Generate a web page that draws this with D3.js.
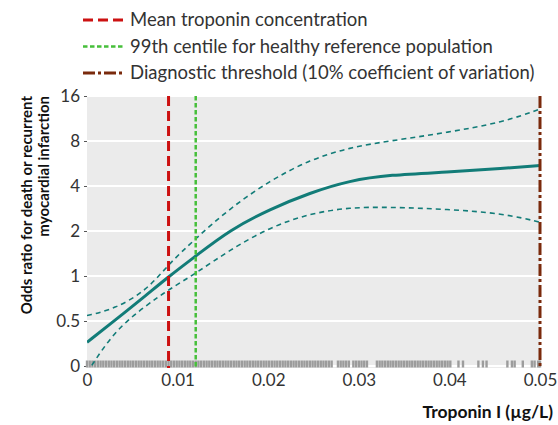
<!DOCTYPE html>
<html>
<head>
<meta charset="utf-8">
<script src="https://cdn.jsdelivr.net/npm/d3@7"></script>
<style>
  html, body { margin: 0; padding: 0; background: #ffffff; }
  svg { display: block; }
</style>
</head>
<body>
<svg id="chart" width="558" height="425"></svg>
<script>
// ---------- data ----------
const troponin  = [0, 0.003, 0.0066, 0.009, 0.012, 0.0158, 0.0202, 0.0246, 0.029, 0.0334, 0.0397, 0.046, 0.05];
const oddsRatio = [0.36, 0.50, 0.75, 0.99, 1.36, 2.04, 2.80, 3.60, 4.35, 4.75, 4.95, 5.24, 5.49];
const upperCI   = [0.544, 0.60, 0.80, 1.20, 1.78, 2.85, 4.35, 6.00, 7.25, 8.0, 9.1, 10.7, 13.1];
const lowerCI   = [0.225, 0.43, 0.64, 0.81, 1.04, 1.50, 2.12, 2.62, 2.88, 2.89, 2.80, 2.62, 2.29];

const yTickValues = [0.25, 0.5, 1, 2, 4, 8, 16];
const yTickLabels = ["0", "0.5", "1", "2", "4", "8", "16"];
const xTickValues = [0, 0.01, 0.02, 0.03, 0.04, 0.05];
const xTickLabels = ["0", "0.01", "0.02", "0.03", "0.04", "0.05"];

const refNames  = ["Mean troponin concentration", "99th centile for healthy reference population", "Diagnostic threshold (10% coefficient of variation)"];
const refValues = [0.009, 0.012, 0.05];

// observed troponin values (units of 0.0001 µg/L) for the rug
const rugValues = [0,3,6,9,12,15,18,21,24,27,30,33,36,39,42,45,48,51,54,57,60,63,66,69,72,75,78,81,84,87,90,93,96,99,
  102,105,108,111,114,117,120,123,126,129,132,135,138,141,144,147,150,153,156,159,162,165,168,171,174,177,180,183,186,189,
  192,195,198,201,204,207,210,213,216,219,222,225,228,231,234,237,240,243,246,249,252,255,258,261,264,267,270,
  277,280,283,286,289,294,297,300,303,306,309,
  320,323,326,329,332,335,338,341,344,347,350,353,356,359,362,365,368,371,374,377,380,383,386,389,392,395,398,401,
  410,415,432,437,441,464,469,472,481,491,494,498,500];

// ---------- layout ----------
const svg = d3.select("#chart");
const pLeft = 87, pRight = 540, pTop = 96, pBottom = 368;
const x = d3.scaleLinear().domain([0, 0.05]).range([pLeft, pRight]);
const y = d3.scaleLog().base(2).domain([0.25, 16]).range([366, pTop]);

const teal = "#127c78";
const refColors = ["#cc1111", "#46bf3a", "#7a2a0c"];
const refDash = ["10,5", "4.5,2.5", "12,3,3,3"];
const refWidth = [3, 2.5, 3];
const fontReg = "Lato, 'Open Sans', sans-serif";

// background
svg.append("rect").attr("x", pLeft).attr("y", pTop).attr("width", pRight - pLeft).attr("height", pBottom - pTop).attr("fill", "#ebebeb");

// horizontal gridlines
svg.append("g").selectAll("line").data(yTickValues).join("line")
  .attr("x1", pLeft).attr("x2", pRight)
  .attr("y1", d => y(d)).attr("y2", d => y(d))
  .attr("stroke", "#ffffff").attr("stroke-width", 2);

// y axis ticks + labels
const yAxis = d3.axisLeft(y).tickValues(yTickValues).tickFormat((d, i) => yTickLabels[i]).tickSize(3).tickPadding(4);
const gy = svg.append("g").attr("transform", `translate(${pLeft},0)`).call(yAxis);
gy.select(".domain").remove();
gy.selectAll(".tick line").attr("stroke", "#555");
gy.selectAll("text").attr("font-family", fontReg).attr("font-size", 17).attr("fill", "#333");

// x axis labels
const xAxis = d3.axisBottom(x).tickValues(xTickValues).tickFormat((d, i) => xTickLabels[i]).tickSize(0).tickPadding(6);
const gx = svg.append("g").attr("transform", `translate(0,${pBottom})`).call(xAxis);
gx.select(".domain").remove();
gx.selectAll("text").attr("font-family", fontReg).attr("font-size", 17).attr("fill", "#333");

// rug
svg.append("g").selectAll("line").data(rugValues).join("line")
  .attr("x1", d => x(d / 10000)).attr("x2", d => x(d / 10000))
  .attr("y1", pBottom - 7.5).attr("y2", pBottom - 0.5)
  .attr("stroke", "#9c9c9c").attr("stroke-width", 2.4);

// clip
svg.append("clipPath").attr("id", "plotclip").append("rect")
  .attr("x", pLeft).attr("y", pTop).attr("width", pRight - pLeft).attr("height", pBottom - pTop);

const line = arr => d3.line()
  .x((d, i) => x(troponin[i]))
  .y(d => y(d))
  .curve(d3.curveBasis)(arr);

const curves = svg.append("g").attr("clip-path", "url(#plotclip)");
curves.append("path").attr("d", line(upperCI)).attr("fill", "none").attr("stroke", teal).attr("stroke-width", 1.6).attr("stroke-dasharray", "5,4");
curves.append("path").attr("d", line(lowerCI)).attr("fill", "none").attr("stroke", teal).attr("stroke-width", 1.6).attr("stroke-dasharray", "5,4");
curves.append("path").attr("d", line(oddsRatio)).attr("fill", "none").attr("stroke", teal).attr("stroke-width", 3);

// reference lines
svg.append("g").selectAll("line").data(refValues).join("line")
  .attr("x1", d => x(d)).attr("x2", d => x(d))
  .attr("y1", pTop).attr("y2", pBottom)
  .attr("stroke", (d, i) => refColors[i])
  .attr("stroke-width", (d, i) => refWidth[i])
  .attr("stroke-dasharray", (d, i) => refDash[i]);

// legend
const lg = svg.append("g").selectAll("g").data(refNames).join("g")
  .attr("transform", (d, i) => `translate(0,${20 + i * 26.5})`);
lg.append("line").attr("x1", 83).attr("x2", 123).attr("y1", 0).attr("y2", 0)
  .attr("stroke", (d, i) => refColors[i])
  .attr("stroke-width", (d, i) => refWidth[i])
  .attr("stroke-dasharray", (d, i) => refDash[i]);
lg.append("text").attr("x", 130).attr("y", 0).attr("dy", "0.35em")
  .attr("font-family", fontReg).attr("font-size", 18.5).attr("fill", "#333")
  .text(d => d);

// axis titles
svg.append("text")
  .attr("transform", `translate(32,${pTop}) rotate(-90)`)
  .attr("text-anchor", "end")
  .attr("font-family", fontReg).attr("font-weight", "bold").attr("font-size", 15).attr("fill", "#111")
  .text("Odds ratio for death or recurrent");
svg.append("text")
  .attr("transform", `translate(49,${pTop}) rotate(-90)`)
  .attr("text-anchor", "end")
  .attr("font-family", fontReg).attr("font-weight", "bold").attr("font-size", 15).attr("fill", "#111")
  .text("myocardial infarction");
svg.append("text")
  .attr("x", 553).attr("y", 418)
  .attr("text-anchor", "end")
  .attr("font-family", fontReg).attr("font-weight", "bold").attr("font-size", 17.5).attr("fill", "#111")
  .text("Troponin I (µg/L)");
</script>
</body>
</html>
